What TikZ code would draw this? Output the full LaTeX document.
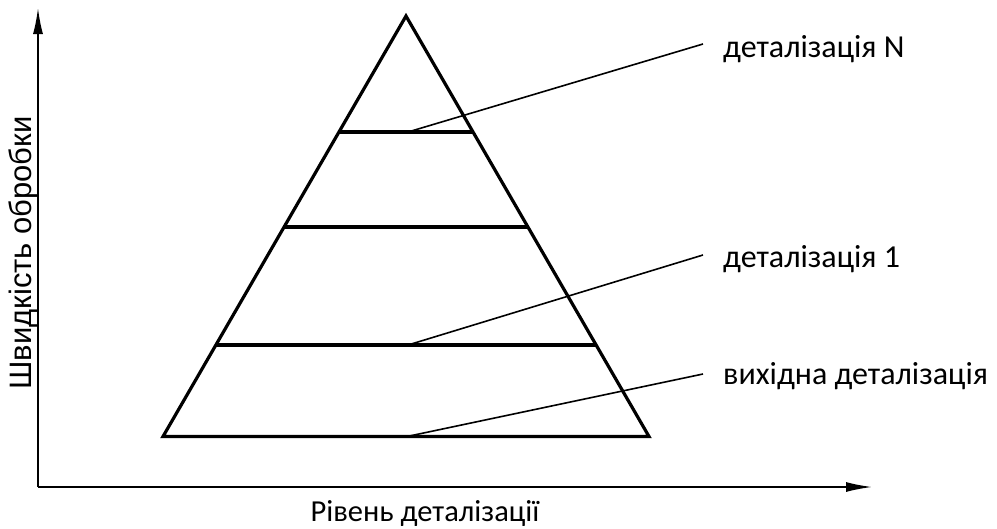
\documentclass[tikz,border=0pt]{standalone}
\usepackage{fontspec}
\setmainfont{Carlito}
\newfontfamily\arialf{Liberation Sans}
\usetikzlibrary{arrows.meta,calc}
\tikzset{
  axisline/.style={line width=1.6pt,-{Latex[length=26pt,width=10pt]}},
  pyr/.style={line width=3.2pt},
  leader/.style={line width=1.6pt},
  lbl/.style={inner sep=0pt,anchor=base west,font=\fontsize{32}{38}\selectfont},
}
\begin{document}
\begin{tikzpicture}[x=1pt,y=-1pt]
\useasboundingbox (0,0) rectangle (997,528);
% axes
\coordinate (O) at (38,487);
\coordinate (ytop) at (38,8);
\coordinate (xend) at (872,487);
\draw[axisline] (O) -- (ytop);
\draw[axisline] (O) -- (xend);
% pyramid
\coordinate (apex) at (406,16);
\coordinate (bl) at (163,436.5);
\coordinate (br) at (649,436.5);
\draw[pyr] (apex) -- (bl) -- (br) -- cycle;
\coordinate (l1) at ($(apex)!0.2759!(bl)$);
\coordinate (r1) at ($(apex)!0.2759!(br)$);
\coordinate (l2) at ($(apex)!0.5018!(bl)$);
\coordinate (r2) at ($(apex)!0.5018!(br)$);
\coordinate (l3) at ($(apex)!0.7824!(bl)$);
\coordinate (r3) at ($(apex)!0.7824!(br)$);
\draw[pyr] (l1) -- (r1);
\draw[pyr] (l2) -- (r2);
\draw[pyr] (l3) -- (r3);
% leaders
\coordinate (s1) at (408,132);
\coordinate (e1) at (703,44);
\coordinate (s2) at (408,345);
\coordinate (e2) at (703,255);
\coordinate (s3) at (407,436.5);
\coordinate (e3) at (703,374);
\draw[leader] (s1) -- (e1);
\draw[leader] (s2) -- (e2);
\draw[leader] (s3) -- (e3);
% labels
\node[lbl] (tN) at (723,57) {деталізація N};
\node[lbl] (t1) at (723,267) {деталізація 1};
\node[lbl] (t0) at (723,384) {вихідна деталізація};
\node[inner sep=0pt,anchor=base,font=\fontsize{30.5}{36}\selectfont] (xl) at (425,521) {Рівень деталізації};
\node[inner sep=0pt,rotate=90,font=\arialf\fontsize{31}{36}\selectfont] (yl) at (23,253) {Швидкість обробки};
\end{tikzpicture}
\end{document}
